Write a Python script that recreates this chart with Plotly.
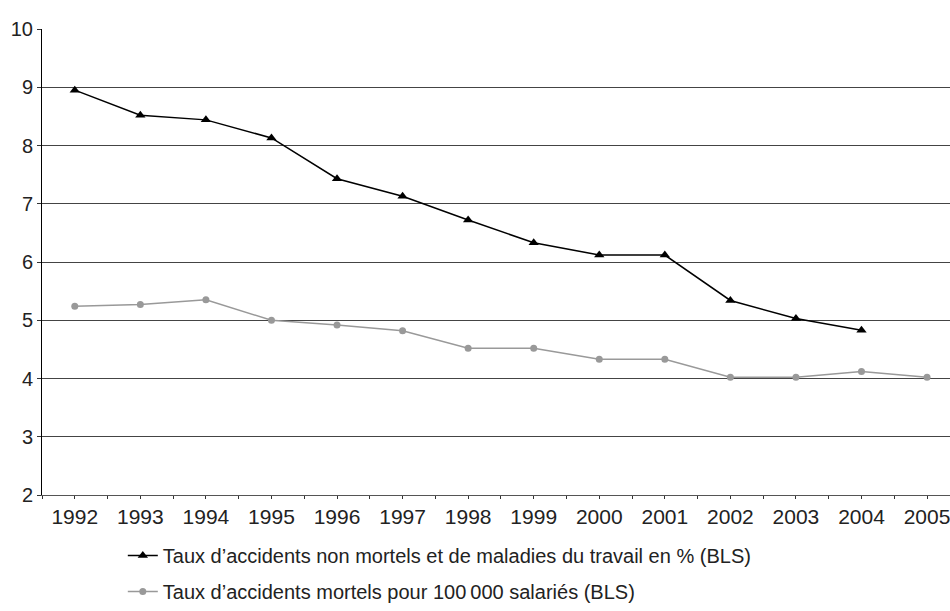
import plotly.graph_objects as go

years = list(range(1992, 2006))
non_mortels = [8.95, 8.52, 8.44, 8.13, 7.43, 7.13, 6.72, 6.33, 6.12, 6.12, 5.34, 5.03, 4.83, None]
mortels = [5.24, 5.27, 5.35, 5.0, 4.92, 4.82, 4.52, 4.52, 4.33, 4.33, 4.02, 4.02, 4.12, 4.02]
name_non_mortels = "Taux d’accidents non mortels et de maladies du travail en % (BLS)"
name_mortels = "Taux d’accidents mortels pour 100\u2009000 salariés (BLS)"

fig = go.Figure()
fig.add_trace(go.Scatter(
    x=years, y=non_mortels, name=name_non_mortels, mode="lines+markers",
    line=dict(color="#000000", width=1.5),
    marker=dict(symbol="triangle-up", size=9, color="#000000"),
    legendgroup="a",
))
fig.add_trace(go.Scatter(
    x=years, y=mortels, name=name_mortels, mode="lines+markers",
    line=dict(color="#999999", width=1.5),
    marker=dict(symbol="circle", size=7, color="#999999"),
    legendgroup="b",
))

font_family = "Liberation Sans, Arial, sans-serif"
fig.update_layout(
    width=950, height=611,
    margin=dict(l=42, r=0, t=29, b=113),
    plot_bgcolor="white", paper_bgcolor="white",
    font=dict(family=font_family, color="#222222", size=16),
    showlegend=True,
    legend=dict(
        x=0.089, y=-0.088, xanchor="left", yanchor="top",
        orientation="v", tracegroupgap=7,
        font=dict(size=20, family=font_family, color="#222222"),
        bgcolor="rgba(0,0,0,0)",
    ),
    xaxis=dict(
        range=[1991.5, 2005.35], automargin=False,
        tickmode="array", tickvals=years, ticktext=[str(y) for y in years],
        ticklabeloverflow="allow",
        showgrid=False, zeroline=False,
        showline=True, linecolor="#555555", linewidth=1,
        ticks="outside", ticklen=3, tickcolor="#333333",
        minor=dict(dtick=0.5, tick0=1991.5, ticks="outside", ticklen=3, tickcolor="#333333"),
        tickfont=dict(size=21, family=font_family),
    ),
    yaxis=dict(
        range=[2, 10], dtick=1, automargin=False,
        showgrid=True, gridcolor="#444444", gridwidth=1,
        zeroline=False,
        showline=True, linecolor="#000000", linewidth=1,
        ticks="outside", ticklen=4, tickcolor="#333333",
        tickfont=dict(size=20, family=font_family),
    ),
)

fig.write_html("out.html", config={"displayModeBar": False},
               post_script="document.body.style.margin='0';")
